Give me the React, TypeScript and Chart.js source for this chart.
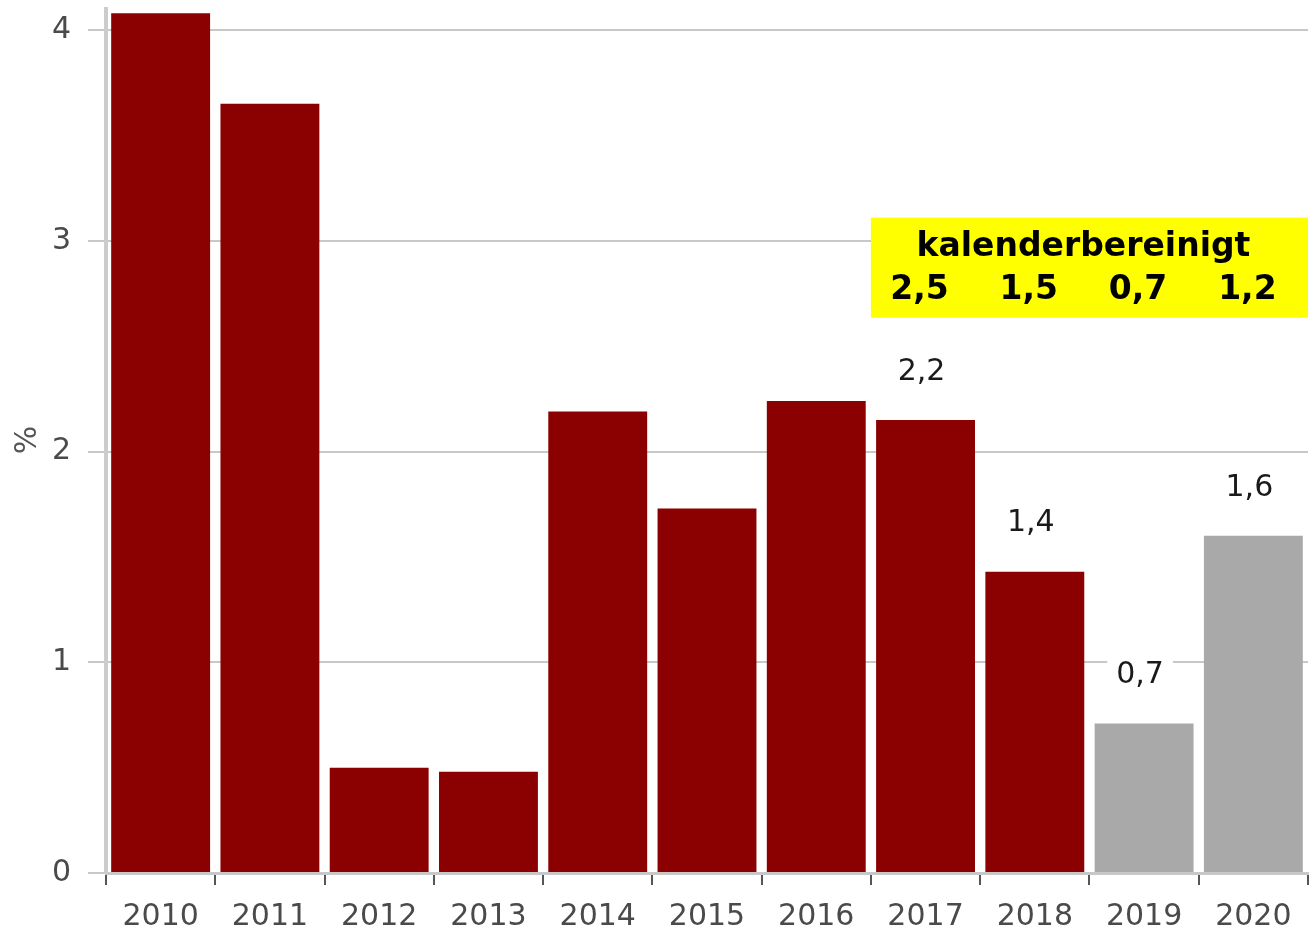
import React, { useEffect, useRef } from 'react';
import { Chart, registerables } from 'chart.js';

Chart.register(...registerables);

const categories = ['2010', '2011', '2012', '2013', '2014', '2015', '2016', '2017', '2018', '2019', '2020'];
const values = [4.08, 3.65, 0.5, 0.48, 2.19, 1.73, 2.24, 2.15, 1.43, 0.71, 1.6];
const valueLabels = ['', '', '', '', '', '', '', '2,2', '1,4', '0,7', '1,6'];
const forecastStart = '2019';
const adjustedTitle = 'kalenderbereinigt';
const adjustedYears = ['2017', '2018', '2019', '2020'];
const adjustedValues = ['2,5', '1,5', '0,7', '1,2'];
const yTickValues = [0, 1, 2, 3, 4];
const yAxisTitle = '%';

const FONT = '"DejaVu Sans", Verdana, sans-serif';

export default function App() {
  const ref = useRef<HTMLCanvasElement>(null);

  useEffect(() => {
    if (!ref.current) return;
    const forecastIdx = categories.indexOf(forecastStart);

    const annotPlugin = {
      id: 'annot',
      afterDatasetsDraw(chart: any) {
        const { ctx, scales, chartArea } = chart;
        const x = scales.x;
        const y = scales.y;
        const meta = chart.getDatasetMeta(0);
        ctx.save();

        // value labels above bars
        ctx.font = `30px ${FONT}`;
        ctx.textAlign = 'center';
        ctx.textBaseline = 'middle';
        valueLabels.forEach((t, i) => {
          if (!t) return;
          const bar = meta.data[i];
          const cx = bar.x - 4;
          const cy = bar.y - 48;
          const w = ctx.measureText(t).width;
          ctx.fillStyle = '#ffffff';
          ctx.fillRect(cx - w / 2 - 9, cy - 17, w + 18, 34);
          ctx.fillStyle = '#1a1a1a';
          ctx.fillText(t, cx, cy);
        });

        // yellow box with calendar adjusted values
        const catW = x.getPixelForValue(1) - x.getPixelForValue(0);
        const left = x.getPixelForValue(categories.indexOf(adjustedYears[0])) - catW / 2;
        const right = chartArea.right;
        const top = y.getPixelForValue(3.11);
        const bottom = y.getPixelForValue(2.635);
        ctx.fillStyle = '#ffff00';
        ctx.fillRect(left, top, right - left, bottom - top);

        ctx.fillStyle = '#000000';
        ctx.font = `bold 33px ${FONT}`;
        ctx.textAlign = 'center';
        ctx.textBaseline = 'middle';
        const firstC = x.getPixelForValue(categories.indexOf(adjustedYears[0]));
        const lastC = x.getPixelForValue(categories.indexOf(adjustedYears[adjustedYears.length - 1]));
        ctx.fillText(adjustedTitle, (firstC + lastC) / 2 - 6, top + 30);
        adjustedYears.forEach((yr, i) => {
          const cx = x.getPixelForValue(categories.indexOf(yr)) - 6;
          ctx.fillText(adjustedValues[i], cx, top + 73);
        });

        // y axis title
        ctx.save();
        ctx.translate(28, 440);
        ctx.rotate(-Math.PI / 2);
        ctx.font = `30px ${FONT}`;
        ctx.fillStyle = '#555555';
        ctx.textAlign = 'center';
        ctx.textBaseline = 'middle';
        ctx.fillText(yAxisTitle, 0, 0);
        ctx.restore();

        ctx.restore();
      },
    };

    const chart = new Chart(ref.current, {
      type: 'bar',
      data: {
        labels: categories,
        datasets: [
          {
            data: values,
            backgroundColor: categories.map((_, i) => (i >= forecastIdx ? '#a9a9a9' : '#8b0000')),
            borderWidth: 0,
            barPercentage: 0.905,
            categoryPercentage: 1,
          },
        ],
      },
      options: {
        responsive: false,
        animation: false,
        devicePixelRatio: 1,
        layout: { padding: { top: 9, right: 5, left: 0, bottom: 0 } },
        plugins: { legend: { display: false }, tooltip: { enabled: false }, title: { display: false } },
        scales: {
          x: {
            offset: true,
            grid: {
              offset: true,
              drawOnChartArea: false,
              drawTicks: true,
              tickLength: 12,
              color: '#555555',
              lineWidth: 2,
            },
            border: { display: true, color: '#c8c8c8', width: 3 },
            ticks: {
              font: { family: FONT, size: 30 },
              color: '#4a4a4a',
              padding: 14,
              maxRotation: 0,
              autoSkip: false,
            },
            afterFit(scale: any) {
              scale.height = 59;
              scale.paddingLeft = 0;
              scale.paddingRight = 0;
            },
          },
          y: {
            min: 0,
            max: 4.1,
            afterBuildTicks(scale: any) {
              scale.ticks = yTickValues.map((v) => ({ value: v }));
            },
            grid: {
              color: '#c8c8c8',
              lineWidth: 2,
              drawTicks: true,
              tickLength: 18,
            },
            border: { display: true, color: '#cccccc', width: 4 },
            ticks: {
              font: { family: FONT, size: 30 },
              color: '#4a4a4a',
              padding: 17,
              callback: (v: any) => String(v),
            },
            afterFit(scale: any) {
              scale.width = 106;
              scale.paddingTop = 0;
              scale.paddingBottom = 0;
            },
          },
        },
      },
      plugins: [annotPlugin],
    });
    return () => chart.destroy();
  }, []);

  return (
    <div style={{ position: 'absolute', left: 0, top: 0, width: 1313, height: 932, background: '#fff' }}>
      <canvas ref={ref} width={1313} height={932} style={{ display: 'block', width: 1313, height: 932 }} />
    </div>
  );
}
